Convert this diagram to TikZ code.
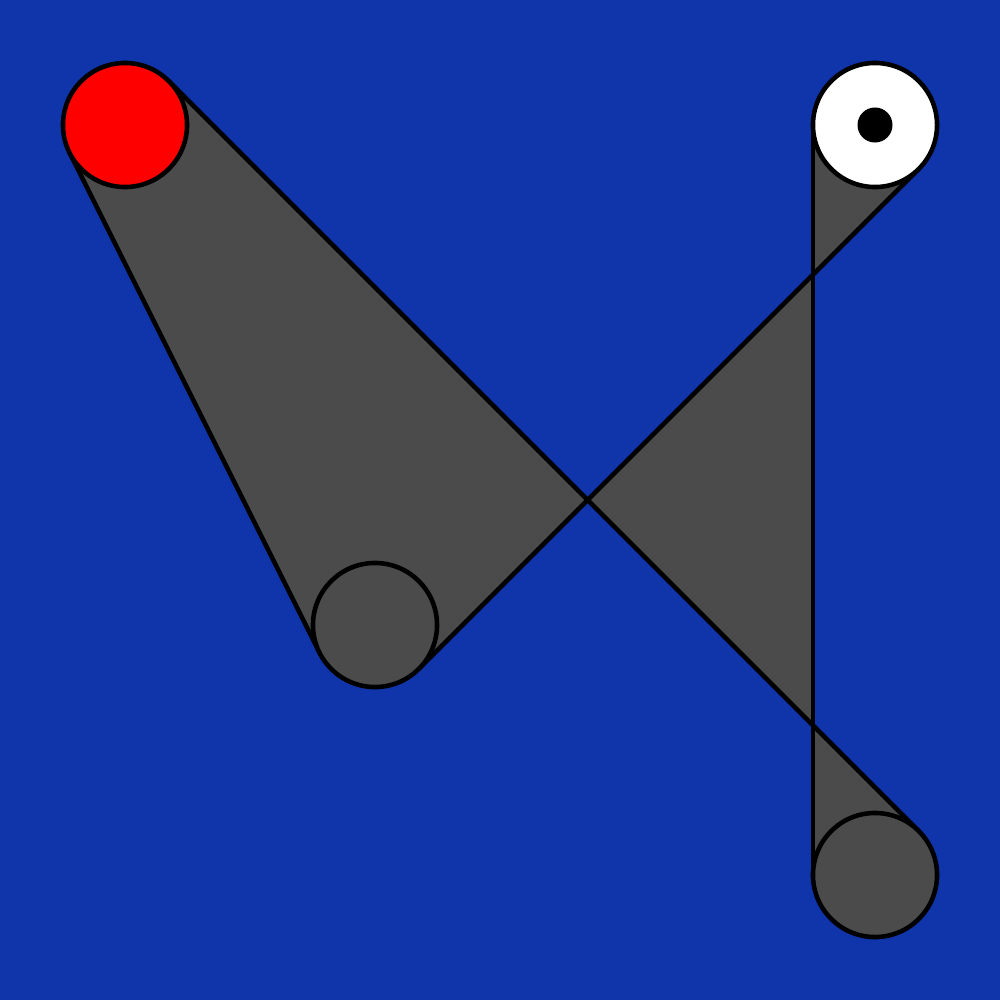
\documentclass[tikz,border=0pt]{standalone}
\definecolor{bgblue}{RGB}{16,53,170}
\definecolor{beltgray}{RGB}{74,75,74}
\begin{document}
\begin{tikzpicture}[x=0.01cm,y=-0.01cm,
  wheel/.style={circle,draw=black,line width=1.3pt,minimum size=1.24cm,inner sep=0pt},
  belt/.style={draw=black,line width=1.3pt,line cap=round}]
\fill[bgblue] (0,0) rectangle (1000,1000);
\useasboundingbox (0,0) rectangle (1000,1000);
% tangent points
\coordinate (a1) at (69.6,152.7);
\coordinate (b1) at (319.6,652.7);
\coordinate (b2) at (418.8,668.8);
\coordinate (c2) at (918.8,168.8);
\coordinate (c1) at (813,125);
\coordinate (d1) at (813,875);
\coordinate (d2) at (918.8,831.2);
\coordinate (a2) at (168.8,81.2);
\fill[beltgray] (a1) -- (b1) -- (b2) -- (c2) -- (c1) -- (d1) -- (d2) -- (a2) -- cycle;
\draw[belt] (a1) -- (b1);
\draw[belt] (b2) -- (c2);
\draw[belt] (c1) -- (d1);
\draw[belt] (d2) -- (a2);
\node[wheel,fill=red] (A) at (125,125) {};
\node[wheel,fill=beltgray] (B) at (375,625) {};
\node[wheel,fill=white] (C) at (875,125) {};
\node[wheel,fill=beltgray] (D) at (875,875) {};
\node[circle,fill=black,minimum size=0.35cm,inner sep=0pt] (dot) at (C) {};
\end{tikzpicture}
\end{document}
